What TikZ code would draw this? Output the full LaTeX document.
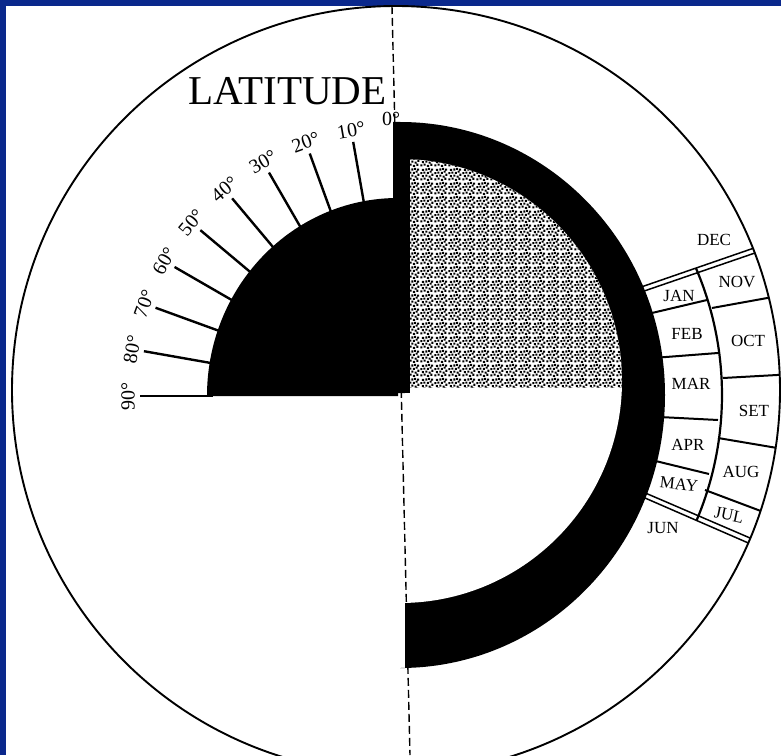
\documentclass[tikz,border=0pt]{standalone}
\usepackage{fontspec}
\setmainfont{Liberation Serif}
\usetikzlibrary{patterns}
\definecolor{frameblue}{RGB}{10,40,140}

% grainy fill for the lit quarter
\pgfdeclarepatternformonly{stipple}{\pgfpointorigin}{\pgfpoint{14pt}{14pt}}{\pgfpoint{14pt}{14pt}}{%
  \foreach \px/\py in {0.3/0.6, 3.9/1.5, 7.4/0.1, 11.1/1.3, 2.0/4.1, 5.7/4.6, 9.2/3.6, 12.0/5.6,
                       0.4/7.3, 3.6/7.8, 7.3/7.6, 10.2/9.0, 2.1/10.8, 5.6/11.2, 8.7/11.8, 11.9/11.1}{%
    \pgfpathrectangle{\pgfpoint{\px pt}{\py pt}}{\pgfpoint{2.2pt}{2.2pt}}}
  \pgfusepath{fill}}

\begin{document}
\begin{tikzpicture}[x=1pt, y=1pt,
    month/.style={font=\fontsize{17}{19}\selectfont, inner sep=0pt},
    deg/.style={font=\fontsize{20}{22}\selectfont, inner sep=0pt, anchor=south},
    tickline/.style={line width=2.4pt},
    boxline/.style={line width=2pt},
    dbline/.style={line width=1.5pt}]
        \useasboundingbox (-400,-360) rectangle (381,395);
        \clip (-400,-360) rectangle (381,395);
        \fill[white] (-400,-360) rectangle (381,395);

        % Frame
        \fill[frameblue] (-400,389) rectangle (381,395);
        \fill[frameblue] (-400,-360) rectangle (-394,395);

        % Centres
        \coordinate (O) at (0,0);
        \coordinate (C) at (-4,5);
        \coordinate (Q) at (-2,-1);
        \coordinate (I) at (0,14);

        % Outer circle
        \draw[line width=1.9pt] (C) circle (384);

        % Month boxes
        \begin{scope}
            \clip (C) circle (384);
            \draw[dbline] (225,102.4) -- (379,155.6);
            \draw[dbline] (225,97.4) -- (380,150.6);
            \draw[dbline] (221.6,-87.8) -- (371,-152);
            \draw[dbline] (222,-93) -- (369,-157);
            \draw[boxline] (312,87) -- (395,102);
            \draw[boxline] (323,17) -- (395,21);
            \draw[boxline] (318,-43) -- (395,-56);
            \draw[boxline] (305,-95) -- (390,-127);
        \end{scope}
        \draw[boxline] (235,78) -- (307,95);
        \draw[boxline] (240,36) -- (318,42);
        \draw[boxline] (240,-21) -- (318,-25);
        \draw[boxline] (235,-61) -- (309,-79);
        \draw[line width=2.2pt] (23.2:322) arc[start angle=23.2, end angle=-22.9, radius=322];

        % Black ring
        \fill (-7,2) -- (-7,273) -- (0,273) arc[start angle=90, end angle=-90, x radius=265, y radius=273]
            -- (5,-273) -- (5,2) -- cycle;
        \begin{scope}
            \clip (10,7) rectangle (260,260);
            \fill[white] (I) circle (222);
            \fill[pattern=stipple] (I) circle (222);
        \end{scope}
        \begin{scope}
            \clip (5,2) -- (10,2) -- (10,7) -- (260,7) -- (260,-260) -- (5,-260) -- cycle;
            \fill[white] (I) circle (222);
        \end{scope}

        % Latitude quarter
        \fill (Q) -- ++(-191,0) arc[start angle=180, end angle=90, x radius=191, y radius=198] -- cycle;
        \foreach \a in {10,20,...,90}{
            \draw[tickline] ([shift={(90+\a:185)}]Q) -- ([shift={(90+\a:258)}]Q);
            \node[deg, rotate=\a] (lat\a) at ([shift={(90+\a:263)}]Q) {\a°};
        }
        \node[deg, anchor=base] (lat0) at (-9,269) {0°};
        \node[font=\fontsize{41}{44}\selectfont, inner sep=0pt, anchor=base] (latitude) at (-112.5,290) {LATITUDE};

        % Months
        \node[month] (dec) at (314,155) {DEC};
        \node[month] (jan) at (279,99) {JAN};
        \node[month] (nov) at (337,113) {NOV};
        \node[month] (feb) at (287,61) {FEB};
        \node[month] (oct) at (348,54) {OCT};
        \node[month] (mar) at (291,11) {MAR};
        \node[month] (set) at (354,-16) {SET};
        \node[month] (apr) at (288,-50) {APR};
        \node[month] (aug) at (341,-77) {AUG};
        \node[month, rotate=-6] (may) at (279,-89) {MAY};
        \node[month, rotate=-12] (jul) at (329,-120) {JUL};
        \node[month] (jun) at (263,-133) {JUN};

        % Axis
        \draw[line width=1.4pt, dash pattern=on 8pt off 4pt] (-8,389) -- (10,-360);
    \end{tikzpicture}
\end{document}
